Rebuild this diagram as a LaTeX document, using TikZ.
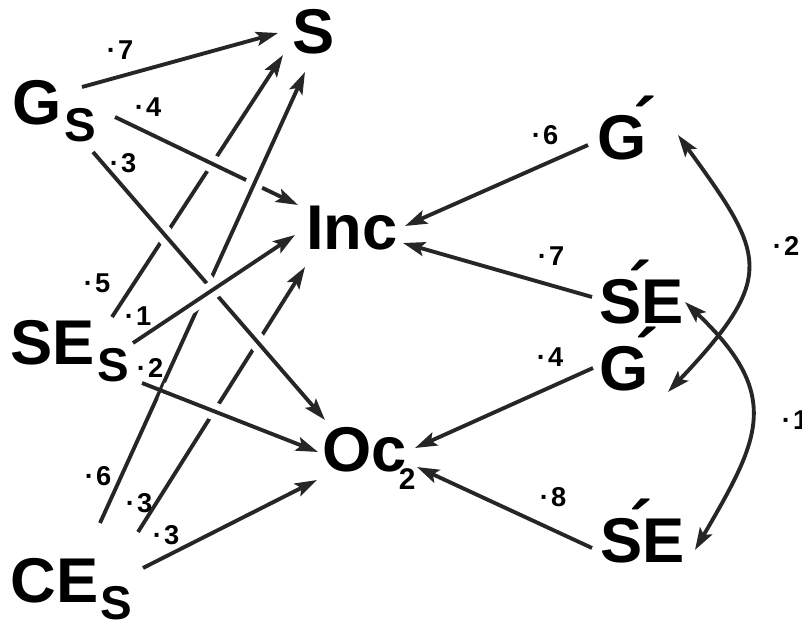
\documentclass[tikz,border=0pt]{standalone}
\usepackage{fontspec}
\setmainfont{Liberation Sans}
\usetikzlibrary{arrows.meta}

\newcommand\sub[1]{\kern1.5pt\raisebox{-9.5pt}{\fontsize{27}{27}\selectfont#1}}
\newcommand\pr{\makebox[0pt][c]{\kern-2pt\raisebox{7pt}{\fontsize{40}{40}\selectfont´}}}
\newcommand\wgt[1]{·\kern1.2pt#1}

\begin{document}
\begin{tikzpicture}[x=0.02cm, y=-0.02cm,
  var/.style={font=\fontsize{36}{36}\selectfont\bfseries, inner sep=0pt, anchor=base west},
  wt/.style={font=\fontsize{15.5}{15.5}\selectfont\bfseries, inner sep=0pt},
  arr/.style={draw=black!85, line width=2.2pt, -{Stealth[length=12.5pt,width=8pt,inset=2.5pt]}},
  twoway/.style={draw=black!85, line width=2.2pt,
    {Stealth[length=12.5pt,width=8pt,inset=2.5pt]}-{Stealth[length=12.5pt,width=8pt,inset=2.5pt]}},
  bridge/.style={preaction={draw=white, line width=10pt, -, shorten <=12pt, shorten >=12pt}}
]
\useasboundingbox (0,0) rectangle (802,621);

% left column
\node[var] (gs) at (12,125) {G\sub{S}};
\node[var] (ses) at (10,365) {SE\sub{S}};
\node[var] (ces) at (10,603) {CE\sub{S}};

% middle column
\node[var] (s) at (292,54) {S};
\node[var] (inc) at (306,250) {Inc};
\node[var] (oc) at (322,472) {Oc\kern-4.5pt\raisebox{-10pt}{\fontsize{17}{17}\selectfont 2}};

% right column
\node[var] (g1) at (597,160) {G\pr};
\node[var] (se1) at (599,324) {S\pr E};
\node[var] (g2) at (599,391) {G\pr};
\node[var] (se2) at (600,563) {S\pr E};

% paths from the left, lowest first so later ones cut through
\draw[arr] ([shift={(70,-38)}]gs.base west) -- ([shift={(-14,-21)}]s.base west);
\draw[arr, bridge] ([shift={(102,-48)}]ses.base west) -- ([shift={(-9,1)}]s.base west);
\draw[arr, bridge] ([shift={(128,-71)}]ces.base west) -- ([shift={(-1,17)}]inc.base west);
\draw[arr, bridge] ([shift={(103,-8)}]gs.base west) -- ([shift={(-8,-45)}]inc.base west);
\draw[arr, bridge] ([shift={(90,-80)}]ces.base west) -- ([shift={(13,18)}]s.base west);
\draw[arr, bridge] ([shift={(81,27)}]gs.base west) -- ([shift={(3,-52)}]oc.base west);
\draw[arr, bridge] ([shift={(132,18)}]ses.base west) -- ([shift={(-4,-20)}]oc.base west);
\draw[arr, bridge] ([shift={(123,-22)}]ses.base west) -- ([shift={(-11,-15)}]inc.base west);
\draw[arr] ([shift={(133,-35)}]ces.base west) -- ([shift={(-5,8)}]oc.base west);

% paths from the right
\draw[arr] ([shift={(-9,-15)}]g1.base west) -- ([shift={(99,-24)}]inc.base west);
\draw[arr] ([shift={(-7,-27)}]se1.base west) -- ([shift={(97,-7)}]inc.base west);
\draw[arr] ([shift={(-6,-23)}]g2.base west) -- ([shift={(93,-24)}]oc.base west);
\draw[arr] ([shift={(-8,-15)}]se2.base west) -- ([shift={(95,-5)}]oc.base west);

% correlations
\draw[twoway] ([shift={(81,-25)}]g1.base west) .. controls (765,255) and (778,276) .. ([shift={(69,1)}]g2.base west);
\draw[twoway] ([shift={(86,-22)}]se1.base west) .. controls (784,396) and (759,440) .. ([shift={(95,-13)}]se2.base west);

% weights
\node[wt] (gs-s) at (120,50) {\wgt{7}};
\node[wt] (gs-inc) at (148,107) {\wgt{4}};
\node[wt] (gs-oc) at (123,163) {\wgt{3}};
\node[wt] (ses-s) at (97,283) {\wgt{5}};
\node[wt] (ses-inc) at (138,316) {\wgt{1}};
\node[wt] (ses-oc) at (150,368) {\wgt{2}};
\node[wt] (ces-s) at (98,476) {\wgt{6}};
\node[wt] (ces-inc) at (139,503) {\wgt{3}};
\node[wt] (ces-oc) at (166,535) {\wgt{3}};
\node[wt] (g1-inc) at (545,135) {\wgt{6}};
\node[wt] (se1-inc) at (551,256) {\wgt{7}};
\node[wt] (g2-oc) at (550,357) {\wgt{4}};
\node[wt] (se2-oc) at (553,497) {\wgt{8}};
\node[wt] (g-g) at (786,246) {\wgt{2}};
\node[wt] (se-se) at (795,420) {\wgt{1}};
\end{tikzpicture}
\end{document}
